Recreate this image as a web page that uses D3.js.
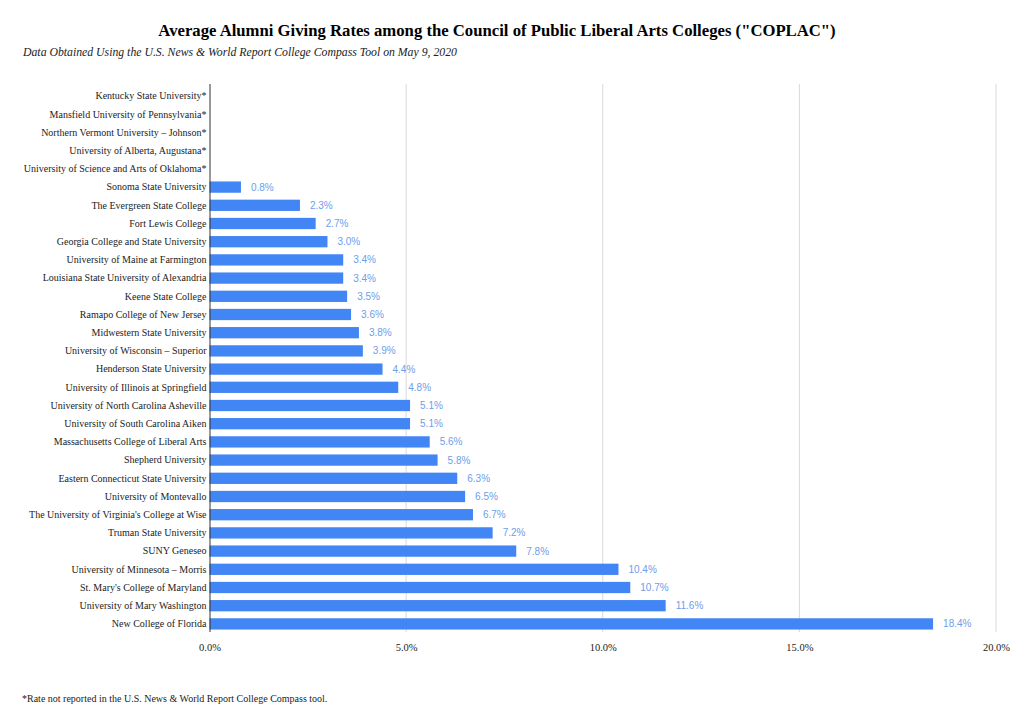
<!DOCTYPE html>
<html>
<head>
<meta charset="utf-8">
<script src="https://cdn.jsdelivr.net/npm/d3@7"></script>
<style>
  body { margin: 0; background: #fff; }
</style>
</head>
<body>
<div id="viz"></div>
<script>
var colleges = [
    "Kentucky State University*",
    "Mansfield University of Pennsylvania*",
    "Northern Vermont University \u2013 Johnson*",
    "University of Alberta, Augustana*",
    "University of Science and Arts of Oklahoma*",
    "Sonoma State University",
    "The Evergreen State College",
    "Fort Lewis College",
    "Georgia College and State University",
    "University of Maine at Farmington",
    "Louisiana State University of Alexandria",
    "Keene State College",
    "Ramapo College of New Jersey",
    "Midwestern State University",
    "University of Wisconsin \u2013 Superior",
    "Henderson State University",
    "University of Illinois at Springfield",
    "University of North Carolina Asheville",
    "University of South Carolina Aiken",
    "Massachusetts College of Liberal Arts",
    "Shepherd University",
    "Eastern Connecticut State University",
    "University of Montevallo",
    "The University of Virginia's College at Wise",
    "Truman State University",
    "SUNY Geneseo",
    "University of Minnesota \u2013 Morris",
    "St. Mary's College of Maryland",
    "University of Mary Washington",
    "New College of Florida"
];

// giving rate in percent, null = not reported
var rates = [null, null, null, null, null,
    0.8, 2.3, 2.7, 3.0, 3.4, 3.4, 3.5, 3.6, 3.8, 3.9, 4.4, 4.8, 5.1, 5.1,
    5.6, 5.8, 6.3, 6.5, 6.7, 7.2, 7.8, 10.4, 10.7, 11.6, 18.4];

var xTicks = [0, 5, 10, 15, 20];

var titleText = 'Average Alumni Giving Rates among the Council of Public Liberal Arts Colleges ("COPLAC")';
var subtitleText = "Data Obtained Using the U.S. News & World Report College Compass Tool on May 9, 2020";
var footnoteText = "*Rate not reported in the U.S. News & World Report College Compass tool.";

var serif = '"Liberation Serif", "Times New Roman", serif';
var sans = '"Liberation Sans", Arial, sans-serif';

var W = 1024, H = 713;
var margin = {top: 84, right: 28, bottom: 81, left: 209.5},
    width = W - margin.left - margin.right,
    height = H - margin.top - margin.bottom;

var data = colleges.map(function (c, i) { return {name: c, value: rates[i]}; });

var root = d3.select("#viz")
    .append("svg")
    .attr("width", W)
    .attr("height", H);

root.append("text")
    .attr("x", 497)
    .attr("y", 36)
    .attr("text-anchor", "middle")
    .style("font-family", serif)
    .style("font-weight", "bold")
    .style("font-size", "16.7px")
    .attr("fill", "#000")
    .text(titleText);

root.append("text")
    .attr("x", 23)
    .attr("y", 56)
    .style("font-family", serif)
    .style("font-style", "italic")
    .style("font-size", "11.75px")
    .attr("fill", "#222")
    .text(subtitleText);

root.append("text")
    .attr("x", 22)
    .attr("y", 702)
    .style("font-family", serif)
    .style("font-size", "10px")
    .attr("fill", "#222")
    .text(footnoteText);

var svg = root.append("g")
    .attr("transform", "translate(" + margin.left + "," + margin.top + ")");

var x = d3.scaleLinear()
    .domain([0, 20])
    .range([0, width]);

var y = d3.scaleBand()
    .domain(colleges)
    .range([3, height + 1])
    .paddingInner(0.38)
    .paddingOuter(0.19);

// gridlines
svg.append("g")
    .selectAll("line")
    .data(xTicks.slice(1))
    .enter().append("line")
    .attr("x1", function (d) { return x(d); })
    .attr("x2", function (d) { return x(d); })
    .attr("y1", 0)
    .attr("y2", height)
    .attr("stroke", "#d9d9d9")
    .attr("stroke-width", 1);

// x axis labels
var xAxis = svg.append("g")
    .attr("transform", "translate(0," + height + ")")
    .call(d3.axisBottom(x)
        .tickValues(xTicks)
        .tickSize(0)
        .tickPadding(12)
        .tickFormat(function (d) { return d.toFixed(1) + "%"; }));
xAxis.select(".domain").remove();
xAxis.selectAll("text")
    .style("font-family", serif)
    .style("font-size", "10.5px")
    .attr("fill", "#222");

// bars
svg.append("g")
    .selectAll("rect")
    .data(data.filter(function (d) { return d.value != null; }))
    .enter().append("rect")
    .attr("x", 0)
    .attr("y", function (d) { return y(d.name); })
    .attr("width", function (d) { return x(d.value); })
    .attr("height", y.bandwidth())
    .attr("fill", "#4285f4");

// value labels
svg.append("g")
    .selectAll("text")
    .data(data.filter(function (d) { return d.value != null; }))
    .enter().append("text")
    .attr("x", function (d) { return x(d.value) + 10; })
    .attr("y", function (d) { return y(d.name) + y.bandwidth() / 2; })
    .attr("dy", "0.35em")
    .style("font-family", sans)
    .style("font-size", "10px")
    .attr("fill", "#6d9eeb")
    .text(function (d) { return d.value.toFixed(1) + "%"; });

// y axis
var yAxis = svg.append("g")
    .call(d3.axisLeft(y).tickSize(0).tickPadding(3));
yAxis.select(".domain")
    .attr("stroke", "#333")
    .attr("d", "M0.5,0V" + height);
yAxis.selectAll("text")
    .style("font-family", serif)
    .style("font-size", "10px")
    .attr("fill", "#222");
</script>
</body>
</html>
